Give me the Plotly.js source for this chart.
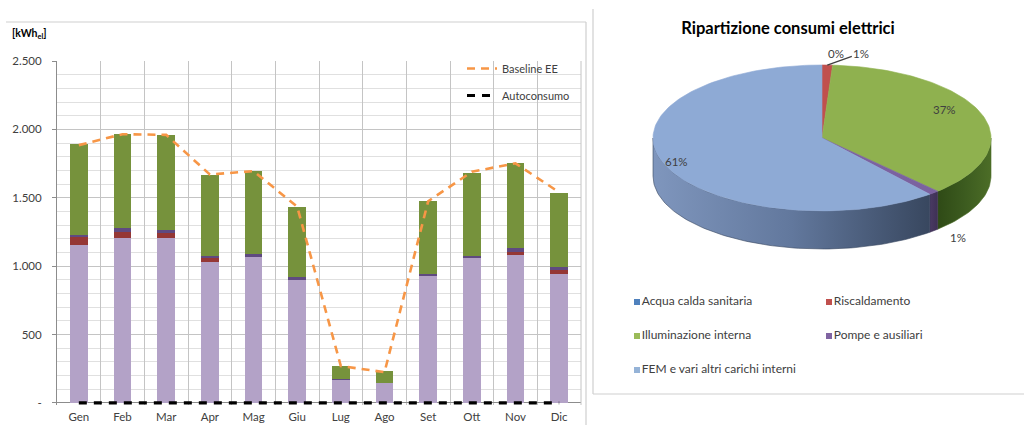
<!DOCTYPE html>
<html>
<head>
<meta charset="utf-8">
<script src="https://cdn.plot.ly/plotly-3.0.1.min.js"></script>
<style>
  html, body { margin: 0; padding: 0; background: #ffffff; }
  #chart { width: 1024px; height: 425px; }
</style>
</head>
<body>
<div id="chart"></div>
<script>
// ---- Consumi elettrici mensili [kWh_el] ----
const months = ['Gen', 'Feb', 'Mar', 'Apr', 'Mag', 'Giu', 'Lug', 'Ago', 'Set', 'Ott', 'Nov', 'Dic'];
const fem          = [1155, 1205, 1205, 1030, 1065, 900, 165, 145, 925, 1060, 1080, 945];
const riscaldamento = [55, 42, 40, 30, 0, 0, 0, 0, 0, 0, 25, 30];
const pompe        = [18, 30, 20, 12, 22, 20, 10, 3, 20, 15, 25, 20];
const illuminazione = [662, 688, 695, 595, 608, 515, 95, 82, 530, 605, 625, 540];
const acquaCalda   = [0, 0, 0, 0, 0, 0, 0, 0, 0, 0, 0, 0];
const baselineEE   = [1885, 1965, 1960, 1670, 1695, 1435, 270, 225, 1475, 1690, 1752, 1540];
const autoconsumo  = [0, 0, 0, 0, 0, 0, 0, 0, 0, 0, 0, 0];

const yTickVals = [0, 500, 1000, 1500, 2000, 2500];
const yTickText = ['-', '500', '1.000', '1.500', '2.000', '2.500'];

// ---- Ripartizione annuale (%) ----
const pieLabels = ['Acqua calda sanitaria', 'Riscaldamento', 'Illuminazione interna', 'Pompe e ausiliari', 'FEM e vari altri carichi interni'];
const pieShares = [0, 1, 37, 1, 61];

// ---- styling ----
const W = 1024, H = 425;
const FONT = 'Lato, "Open Sans", "Liberation Sans", sans-serif';
const TXT = '#404040';

const barColors = { fem: '#b3a2c7', risc: '#953735', pompe: '#5f4a80', illum: '#76923c', acqua: '#4f81bd' };
const legendColors = ['#4f81bd', '#c0504d', '#9bbb59', '#8064a2', '#95b3d7'];
const topColors    = ['#4f81bd', '#c0504d', '#8fb14f', '#7b62a0', '#8eaad5'];
const wallScales = [
  [[0, '#3a5f8c'], [1, '#2a4566']],
  [[0, '#8c3331'], [1, '#6a2624']],
  [[0, '#2f4a16'], [0.5, '#3c5b1f'], [1, '#4c6d27']],
  [[0, '#4a3a63'], [1, '#3e3055']],
  [[0, '#7f96bd'], [0.5, '#62789d'], [1, '#38475f']]
];

const barWidth = 0.41;
function barTrace(name, vals, color) {
  return { type: 'bar', name: name, x: months, y: vals, width: barWidth,
           marker: { color: color, line: { width: 0 } }, showlegend: false,
           xaxis: 'x', yaxis: 'y' };
}

const traces = [
  barTrace('FEM e vari altri carichi interni', fem, barColors.fem),
  barTrace('Acqua calda sanitaria', acquaCalda, barColors.acqua),
  barTrace('Riscaldamento', riscaldamento, barColors.risc),
  barTrace('Pompe e ausiliari', pompe, barColors.pompe),
  barTrace('Illuminazione interna', illuminazione, barColors.illum),
  { type: 'scatter', mode: 'lines', name: 'Baseline EE', x: months, y: baselineEE,
    line: { color: '#f79646', width: 2.6, dash: '8px,6px' }, legend: 'legend',
    xaxis: 'x', yaxis: 'y' },
  { type: 'scatter', mode: 'lines', name: 'Autoconsumo', x: months, y: autoconsumo,
    line: { color: '#000000', width: 3.2, dash: '8px,7px' }, legend: 'legend2',
    xaxis: 'x', yaxis: 'y' }
];

// ---- 3D-looking elliptical pie, drawn in pixel-unit axes (x2 / y2) ----
const PIE = { cx: 822, cy: 138, a: 169, b: 73, depth: 38 };
function ept(deg, dy) {
  const r = deg * Math.PI / 180;
  return [PIE.cx + PIE.a * Math.sin(r), PIE.cy - PIE.b * Math.cos(r) + (dy || 0)];
}
function arc(d0, d1, dy) {
  const pts = [];
  const n = Math.max(2, Math.ceil((d1 - d0) / 1.5));
  for (let k = 0; k <= n; k++) pts.push(ept(d0 + (d1 - d0) * k / n, dy));
  return pts;
}

const slices = [];
let cum = 0;
pieShares.forEach((s, i) => {
  const start = cum / 100 * 360, end = (cum + s) / 100 * 360;
  slices.push({ i, start, end, mid: (start + end) / 2 });
  cum += s;
});

const pieWalls = [], pieTops = [];
slices.forEach(sl => {
  if (sl.end <= sl.start) return;
  // visible side wall (front half of the ellipse)
  const lo = Math.max(sl.start, 90), hi = Math.min(sl.end, 270);
  if (lo < hi) {
    const upper = arc(lo, hi, 0), lower = arc(lo, hi, PIE.depth).reverse();
    const pts = upper.concat(lower);
    pts.push(upper[0]);
    const xs = pts.map(p => p[0]);
    pieWalls.push({ type: 'scatter', mode: 'lines', x: xs, y: pts.map(p => p[1]),
      fill: 'toself', line: { width: 0.6, color: wallScales[sl.i][wallScales[sl.i].length - 1][1] },
      fillgradient: { type: 'horizontal', colorscale: wallScales[sl.i],
                      start: Math.min(...xs), stop: Math.max(...xs) },
      hoverinfo: 'skip', showlegend: false, xaxis: 'x2', yaxis: 'y2' });
  }
  const top = [[PIE.cx, PIE.cy]].concat(arc(sl.start, sl.end, 0));
  top.push([PIE.cx, PIE.cy]);
  pieTops.push({ type: 'scatter', mode: 'lines', x: top.map(p => p[0]), y: top.map(p => p[1]),
    fill: 'toself', fillcolor: topColors[sl.i], line: { width: 0.6, color: topColors[sl.i] },
    hoverinfo: 'skip', showlegend: false, xaxis: 'x2', yaxis: 'y2' });
});

// legend of the pie (two columns)
const pieLegendCols = [637, 829], pieLegendRows = [302, 336, 370];
const pieLegend = pieLabels.map((lab, i) => ({
  type: 'scatter', mode: 'markers+text',
  x: [pieLegendCols[i % 2]], y: [pieLegendRows[Math.floor(i / 2)]],
  text: [lab], textposition: 'middle right',
  textfont: { family: FONT, size: 12, color: TXT },
  marker: { symbol: 'square', size: 6, color: legendColors[i], line: { width: 0 } },
  hoverinfo: 'skip', showlegend: false, xaxis: 'x2', yaxis: 'y2'
}));

// percentage labels: placement relative to each slice's mid-angle
const pctPlacement = [
  { r: 1.0, dx: 14, dy: -12 },
  { r: 1.0, dx: 0, dy: 0, leader: [34, -12] },
  { r: 0.78, dx: -2, dy: -9 },
  { r: 1.0, dx: 24, dy: 45 },
  { r: 0.9, dx: -2, dy: 1 }
];
const pctAnnotations = slices.map(sl => {
  const p = pctPlacement[sl.i];
  const rad = sl.mid * Math.PI / 180;
  const x = PIE.cx + p.r * PIE.a * Math.sin(rad);
  const y = PIE.cy - p.r * PIE.b * Math.cos(rad);
  const base = { xref: 'x2', yref: 'y2', text: pieShares[sl.i] + '%',
                 font: { family: FONT, size: 11.5, color: TXT } };
  if (p.leader) {
    return Object.assign(base, { x: x, y: y, showarrow: true, arrowhead: 0, arrowwidth: 1.3,
      arrowcolor: '#404040', ax: p.leader[0], ay: p.leader[1], standoff: 0 });
  }
  return Object.assign(base, { x: x + p.dx, y: y + p.dy, showarrow: false });
});

const allTraces = traces.concat(pieWalls, pieTops, pieLegend);

const layout = {
  width: W, height: H,
  margin: { l: 0, r: 0, t: 0, b: 0 },
  paper_bgcolor: '#ffffff', plot_bgcolor: 'rgba(0,0,0,0)',
  font: { family: FONT, size: 11, color: TXT },
  barmode: 'stack',
  title: { text: '<b>Ripartizione consumi elettrici</b>', x: 788 / W, xanchor: 'center',
           y: 1 - 28 / H, yanchor: 'middle', font: { family: FONT, size: 16.5, color: '#000000' } },
  xaxis: {
    domain: [57 / W, 581 / W], type: 'category', range: [-0.5, 11.5],
    tickson: 'boundaries', showgrid: true, gridcolor: '#c4c4c4', gridwidth: 1,
    ticks: '', showline: false, zeroline: false, ticklabelstandoff: 3,
    tickfont: { family: FONT, size: 11.5, color: TXT }, fixedrange: true
  },
  yaxis: {
    domain: [(H - 405) / H, (H - 61) / H], range: [-15, 2500],
    tickvals: yTickVals, ticktext: yTickText,
    showgrid: true, gridcolor: '#c4c4c4', gridwidth: 1,
    minor: { dtick: 100, tick0: 0, showgrid: true, gridcolor: '#e0e0e0', ticks: '' },
    zeroline: true, zerolinecolor: '#8c8c8c', zerolinewidth: 1,
    showline: true, linecolor: '#8c8c8c', linewidth: 1,
    ticks: 'outside', ticklen: 4, tickcolor: '#8c8c8c', ticklabelstandoff: 8,
    tickfont: { family: FONT, size: 11.5, color: TXT }, fixedrange: true
  },
  xaxis2: { domain: [593 / W, 1], range: [593, 1024], visible: false, fixedrange: true },
  yaxis2: { domain: [0, 1], range: [425, 0], visible: false, fixedrange: true, anchor: 'x2' },
  legend: { x: 462 / W, y: 1 - 54 / H, xanchor: 'left', yanchor: 'top',
            bgcolor: 'rgba(0,0,0,0)', font: { family: FONT, size: 11, color: TXT } },
  legend2: { x: 462 / W, y: 1 - 81 / H, xanchor: 'left', yanchor: 'top',
             bgcolor: 'rgba(0,0,0,0)', font: { family: FONT, size: 11, color: TXT } },
  shapes: [
    // frame of the monthly chart
    { type: 'line', xref: 'paper', yref: 'paper', x0: 6 / W, x1: 586 / W, y0: 1 - 22 / H, y1: 1 - 22 / H,
      line: { color: '#cfcfcf', width: 1.2 } },
    { type: 'line', xref: 'paper', yref: 'paper', x0: 586 / W, x1: 586 / W, y0: 1 - 22 / H, y1: 0,
      line: { color: '#cfcfcf', width: 1.2 } },
    { type: 'line', xref: 'paper', yref: 'paper', x0: 581 / W, x1: 581 / W, y0: 1 - 61 / H, y1: 1 - 405 / H,
      line: { color: '#c4c4c4', width: 1 } },
    // frame of the pie chart
    { type: 'line', xref: 'paper', yref: 'paper', x0: 593 / W, x1: 593 / W, y0: 1 - 9 / H, y1: 1 - 394 / H,
      line: { color: '#cfcfcf', width: 1.2 } },
    { type: 'line', xref: 'paper', yref: 'paper', x0: 593 / W, x1: 1, y0: 1 - 394 / H, y1: 1 - 394 / H,
      line: { color: '#cfcfcf', width: 1.2 } }
  ],
  annotations: [
    { xref: 'paper', yref: 'paper', x: 10 / W, y: 1 - 34 / H, xanchor: 'left', yanchor: 'middle',
      text: '<b>[kWh<sub>el</sub>]</b>', showarrow: false, font: { family: FONT, size: 10.5, color: '#000000' } }
  ].concat(pctAnnotations)
};

Plotly.newPlot('chart', allTraces, layout, { staticPlot: true, displayModeBar: false });
</script>
</body>
</html>
